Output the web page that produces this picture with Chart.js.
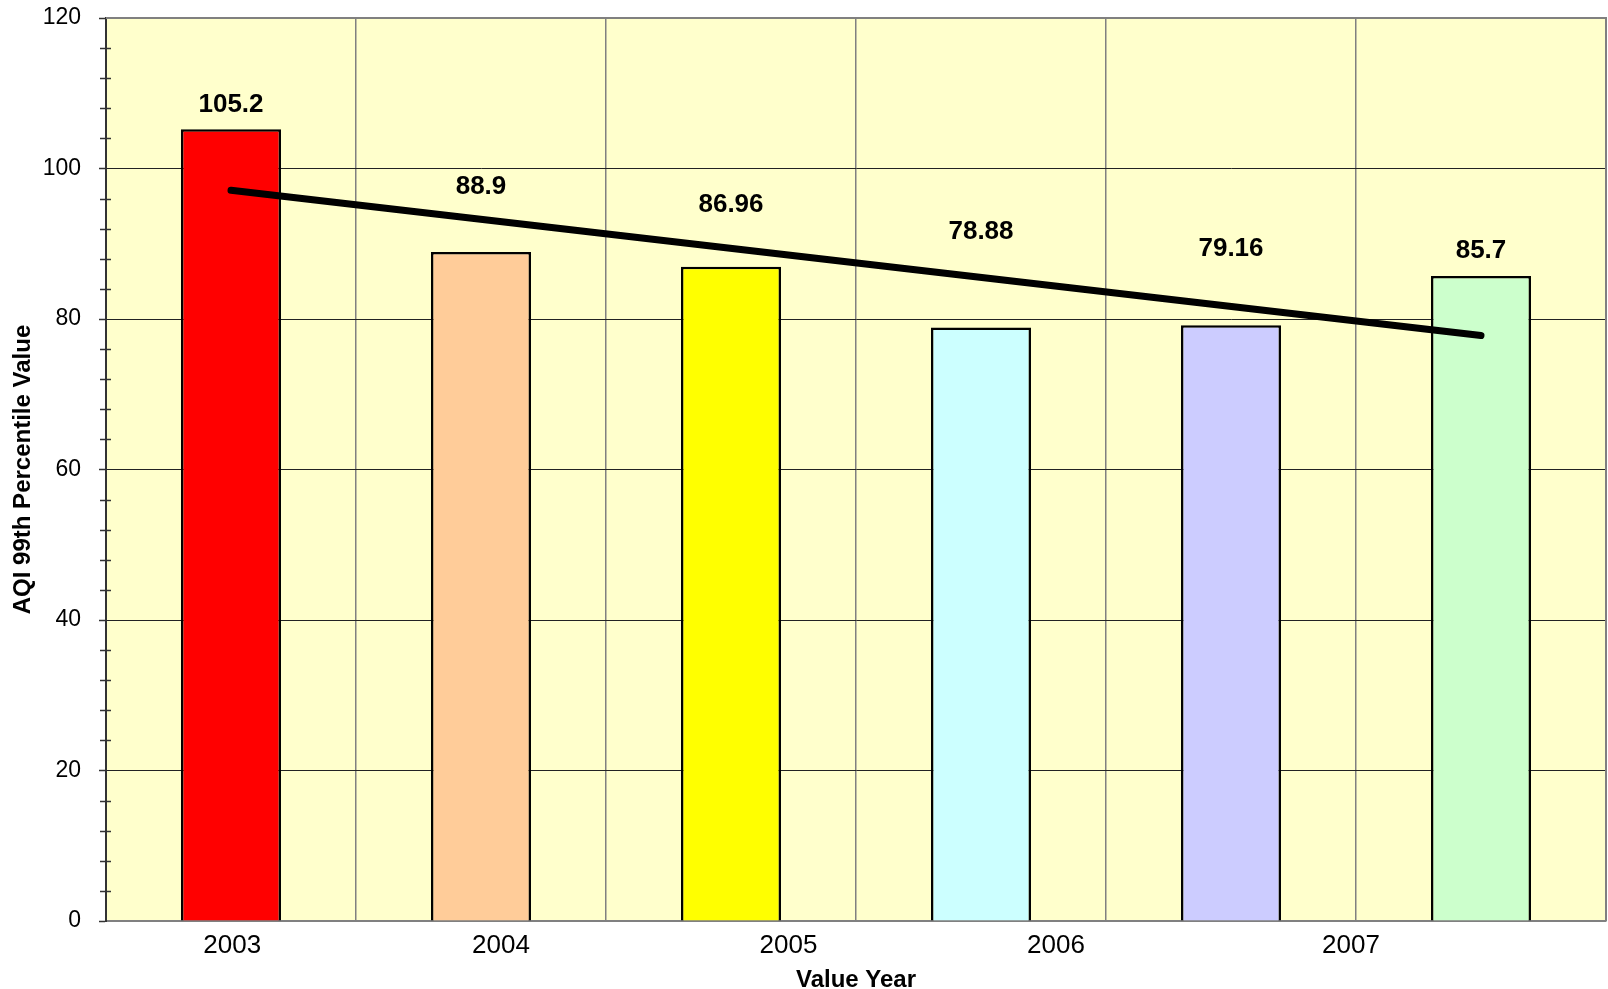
<!DOCTYPE html>
<html>
<head>
<meta charset="utf-8">
<script src="https://cdn.jsdelivr.net/npm/chart.js@4/dist/chart.umd.min.js"></script>
<style>
  html, body { margin: 0; padding: 0; background: #fff; }
</style>
</head>
<body>
<canvas id="aqi_chart" width="1608" height="989"></canvas>
<script>
// data
const years = ['2003', '2004', '2005', '2006', '2007', '2008'];
const aqiValues = [105.2, 88.9, 86.96, 78.88, 79.16, 85.7];
const barColors = ['#FF0000', '#FFCC99', '#FFFF00', '#CCFFFF', '#CCCCFF', '#CCFFCC'];
// linear trend, ends
const trendValues = [97.1, null, null, null, null, 77.8];
// axis labels the way the source shows them
const yearTicks = ['2003', '2004', '2005', '2006', '2007'];
const yearTickPos = [0.505, 1.58, 2.73, 3.8, 4.98];
const yTicks = [0, 20, 40, 60, 80, 100, 120];
// label nudges (px, from bar top)
const labelShift = [-25, -65, -62, -96, -76, -25];

const FONT = "'Liberation Sans', Arial, sans-serif";

const plotBg = {
  id: 'plotBg',
  beforeDraw(chart) {
    let { ctx, chartArea: a } = chart;
    ctx.save();
    ctx.fillStyle = '#FFFFCC';
    ctx.fillRect(a.left, a.top, a.right - a.left, a.bottom - a.top);
    ctx.restore();
  },
  beforeDatasetsDraw(chart) {
    let { ctx, chartArea: a, scales } = chart;
    ctx.save();
    // frame top/right
    ctx.strokeStyle = '#808080';
    ctx.lineWidth = 2;
    ctx.beginPath();
    ctx.moveTo(a.left, a.top);
    ctx.lineTo(a.right, a.top);
    ctx.lineTo(a.right, a.bottom);
    ctx.stroke();
    // minor ticks on y
    ctx.strokeStyle = '#333';
    ctx.lineWidth = 1.5;
    for (let v = 4; v < 120; v += 4) {
      if (v % 20 === 0) continue;
      let y = Math.round(scales.y.getPixelForValue(v)) + 0.5;
      ctx.beginPath();
      ctx.moveTo(a.left - 6, y);
      ctx.lineTo(a.left + 5, y);
      ctx.stroke();
    }
    ctx.restore();
  },
  afterDatasetsDraw(chart) {
    let { ctx } = chart;
    let meta = chart.getDatasetMeta(1);
    ctx.save();
    ctx.fillStyle = '#000';
    ctx.font = 'bold 26px ' + FONT;
    ctx.textAlign = 'center';
    ctx.textBaseline = 'middle';
    meta.data.forEach((bar, i) => {
      ctx.fillText(String(aqiValues[i]), bar.x, bar.y + labelShift[i]);
    });
    ctx.restore();
  }
};

let data = {
  labels: years,
  datasets: [
    {
      type: 'line',
      data: trendValues,
      borderColor: '#000',
      borderWidth: 7,
      borderCapStyle: 'round',
      pointRadius: 0,
      spanGaps: true,
      order: 0
    },
    {
      type: 'bar',
      data: aqiValues,
      backgroundColor: barColors,
      borderColor: '#000',
      borderWidth: 2.5,
      barPercentage: 0.4,
      categoryPercentage: 1,
      order: 1
    }
  ]
};

let options = {
  responsive: false,
  animation: false,
  layout: { padding: { top: 18, right: 2, bottom: 0, left: 0 } },
  plugins: { legend: { display: false }, tooltip: { enabled: false } },
  scales: {
    x: {
      type: 'category',
      position: 'bottom',
      ticks: { display: false },
      grid: { color: '#808080', lineWidth: 1.5, drawTicks: false, offset: true },
      border: { color: '#808080', width: 2 },
      afterFit: s => { s.height = 0; s.paddingLeft = 0; s.paddingRight = 0; }
    },
    xl: {
      type: 'linear',
      position: 'bottom',
      min: 0,
      max: 6,
      grid: { display: false, drawTicks: false },
      border: { display: false },
      afterBuildTicks: s => { s.ticks = yearTickPos.map(v => ({ value: v })); },
      ticks: {
        autoSkip: false,
        maxRotation: 0,
        padding: 9,
        color: '#000',
        font: { family: FONT, size: 26 },
        callback: (v, i) => yearTicks[i]
      },
      title: {
        display: true,
        text: 'Value Year',
        color: '#000',
        font: { family: FONT, size: 24, weight: 'bold', lineHeight: 1 },
        padding: { top: 0, bottom: -3 }
      },
      afterFit: s => { s.height = 68; s.paddingLeft = 0; s.paddingRight = 0; }
    },
    y: {
      min: 0,
      max: 120,
      afterBuildTicks: s => { s.ticks = yTicks.map(v => ({ value: v })); },
      ticks: {
        padding: 18,
        color: '#000',
        font: { family: FONT, size: 23 }
      },
      grid: {
        color: ctx => (ctx.tick && (ctx.tick.value === 120 || ctx.tick.value === 0)) ? '#808080' : '#222',
        lineWidth: 1,
        tickLength: 7,
        tickColor: '#333',
        tickWidth: 1.5
      },
      border: { color: '#333', width: 2 },
      title: {
        display: true,
        text: 'AQI 99th Percentile Value',
        color: '#000',
        font: { family: FONT, size: 24, weight: 'bold', lineHeight: 1 },
        padding: { top: 11, bottom: 0 }
      },
      afterFit: s => { s.width = 106; s.paddingTop = 0; s.paddingBottom = 0; }
    }
  }
};

new Chart('aqi_chart', { data, options, plugins: [plotBg] });
</script>
</body>
</html>
